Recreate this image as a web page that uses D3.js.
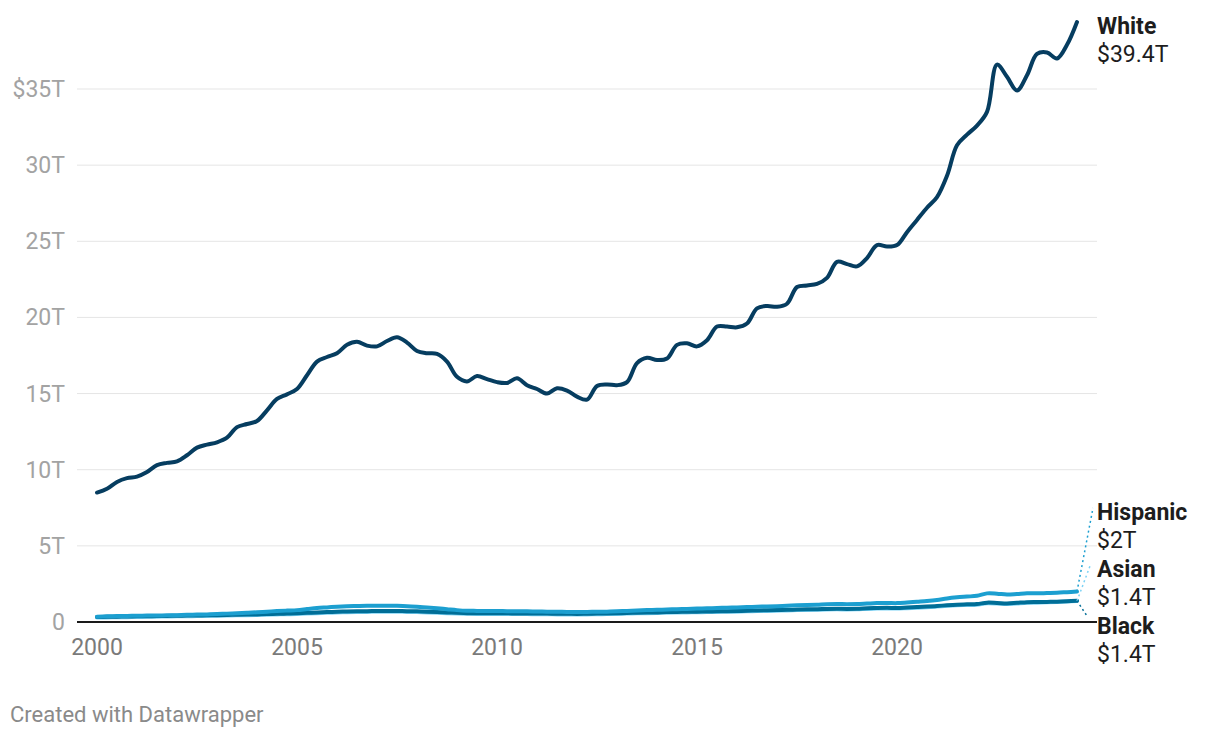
<!DOCTYPE html>
<html><head><meta charset="utf-8">
<script src="https://cdn.jsdelivr.net/npm/d3@7"></script>
<style>
body{margin:0;background:#fff;font-family:Roboto,"Noto Sans",sans-serif;}
</style></head><body>
<svg id="c" width="1220" height="738"></svg>
<script>
const startYear = 2000;
const quarters = d3.range(99).map(i => startYear + i * 0.25);
const white = [8.5,8.75,9.2,9.45, 9.55,9.85,10.3,10.45, 10.55,10.95,11.45,11.65, 11.8,12.1,12.8,13.0,
 13.2,13.9,14.65,14.95, 15.3,16.2,17.1,17.4, 17.65,18.2,18.4,18.15, 18.1,18.45,18.7,18.35,
 17.8,17.65,17.6,17.1, 16.1,15.8,16.15,15.95, 15.75,15.7,16.0,15.55, 15.3,15.0,15.35,15.2,
 14.8,14.6,15.5,15.6, 15.55,15.75,17.0,17.35, 17.2,17.3,18.2,18.3, 18.1,18.5,19.4,19.4,
 19.35,19.6,20.6,20.75, 20.7,20.9,22.0,22.1, 22.2,22.6,23.65,23.5, 23.35,23.9,24.75,24.65,
 24.75,25.6,26.4,27.2, 27.9,29.3,31.3,32.0, 32.6,33.5,36.6,35.8, 34.9,35.9,37.3,37.4,
 37.0,37.9,39.4];
const hispanic = [0.35,0.37,0.39,0.40, 0.41,0.42,0.43,0.44, 0.45,0.47,0.49,0.50, 0.52,0.55,0.58,0.61,
 0.64,0.68,0.72,0.75, 0.78,0.85,0.92,0.96, 1.00,1.03,1.05,1.06, 1.06,1.07,1.06,1.04,
 1.00,0.95,0.90,0.84, 0.78,0.74,0.73,0.72, 0.72,0.71,0.70,0.70, 0.69,0.68,0.67,0.66,
 0.65,0.66,0.67,0.68, 0.70,0.73,0.76,0.78, 0.80,0.82,0.84,0.86, 0.88,0.90,0.92,0.94,
 0.96,0.98,1.00,1.02, 1.04,1.07,1.10,1.12, 1.14,1.17,1.18,1.17, 1.18,1.21,1.24,1.25,
 1.24,1.28,1.33,1.38, 1.45,1.55,1.62,1.67, 1.72,1.88,1.86,1.80, 1.84,1.89,1.88,1.90,
 1.92,1.96,2.00];
const black = [0.33,0.34,0.35,0.36, 0.37,0.38,0.39,0.40, 0.41,0.42,0.43,0.44, 0.45,0.46,0.48,0.49,
 0.50,0.52,0.54,0.55, 0.57,0.60,0.63,0.65, 0.67,0.69,0.70,0.71, 0.72,0.73,0.72,0.71,
 0.70,0.68,0.66,0.63, 0.60,0.58,0.57,0.57, 0.57,0.57,0.56,0.56, 0.55,0.55,0.54,0.54,
 0.53,0.54,0.55,0.56, 0.57,0.59,0.61,0.62, 0.63,0.65,0.66,0.67, 0.68,0.69,0.70,0.71,
 0.72,0.74,0.76,0.77, 0.78,0.80,0.82,0.83, 0.84,0.86,0.87,0.86, 0.87,0.90,0.92,0.93,
 0.92,0.95,0.98,1.01, 1.05,1.10,1.14,1.16, 1.18,1.27,1.25,1.22, 1.26,1.30,1.31,1.32,
 1.33,1.36,1.40];
const asian = [0.29,0.30,0.31,0.32, 0.33,0.34,0.35,0.36, 0.37,0.38,0.39,0.40, 0.41,0.42,0.44,0.45,
 0.46,0.48,0.50,0.51, 0.53,0.56,0.58,0.60, 0.62,0.64,0.65,0.66, 0.67,0.68,0.67,0.66,
 0.65,0.63,0.61,0.58, 0.56,0.54,0.53,0.53, 0.53,0.53,0.52,0.52, 0.51,0.51,0.50,0.50,
 0.49,0.50,0.51,0.52, 0.53,0.55,0.57,0.58, 0.59,0.61,0.62,0.63, 0.64,0.65,0.66,0.67,
 0.68,0.70,0.72,0.73, 0.74,0.76,0.78,0.79, 0.80,0.82,0.83,0.82, 0.83,0.86,0.88,0.89,
 0.88,0.91,0.94,0.97, 1.01,1.06,1.10,1.12, 1.14,1.23,1.21,1.18, 1.22,1.26,1.27,1.29,
 1.31,1.34,1.38];
const yTicks = [0,5,10,15,20,25,30,35];
const yTickLabels = ["0","5T","10T","15T","20T","25T","30T","$35T"];
const xTicks = [2000,2005,2010,2015,2020];
const seriesNames = ["Asian","Black","Hispanic","White"];
const seriesLabels = {White:"$39.4T", Hispanic:"$2T", Asian:"$1.4T", Black:"$1.4T"};
const seriesColors = {White:"#063d60", Hispanic:"#1c9fd0", Asian:"#7dd3f5", Black:"#006e97"};
const seriesData = {White:white, Hispanic:hispanic, Asian:asian, Black:black};

const svg = d3.select("#c");
const x = d3.scaleLinear().domain([2000, 2025.5]).range([97, 1117]);
const y = d3.scaleLinear().domain([0, 35]).range([622, 89]);
const left = 77, right = 1097;
const axisFont = 23, labelFont = 23;

const g = svg.append("g");
yTicks.filter(t => t > 0).forEach(t => {
  g.append("line").attr("x1", left).attr("x2", right).attr("y1", y(t)).attr("y2", y(t))
    .attr("stroke", "#e5e5e5").attr("stroke-width", 1);
});
yTicks.forEach((t, i) => {
  svg.append("text").attr("x", 65).attr("y", y(t) + 8).attr("text-anchor", "end")
    .attr("font-size", axisFont).attr("fill", "#a3a3a3").text(yTickLabels[i]);
});
xTicks.forEach(t => {
  svg.append("text").attr("x", x(t)).attr("y", 655).attr("text-anchor", "middle")
    .attr("font-size", axisFont).attr("fill", "#7a7a7a").text(t);
});

const line = d3.line().x((d, i) => x(quarters[i])).y(d => y(d)).curve(d3.curveCatmullRom.alpha(0.5));

seriesNames.forEach(name => {
  svg.append("path").datum(seriesData[name]).attr("d", line)
    .attr("fill", "none").attr("stroke", seriesColors[name])
    .attr("stroke-width", 4)
    .attr("stroke-linejoin", "round").attr("stroke-linecap", "round");
});

svg.append("line").attr("x1", left).attr("x2", right).attr("y1", y(0)).attr("y2", y(0))
  .attr("stroke", "#1a1a1a").attr("stroke-width", 2);

const lastX = x(quarters[quarters.length - 1]);
const labelPos = {White: 34, Hispanic: 520, Asian: 577, Black: 634};
const connectorEnd = {Hispanic: [1093, 508], Asian: [1090, 566], Black: [1087, 616]};
["Hispanic","Asian","Black"].forEach(name => {
  const d = seriesData[name];
  svg.append("line").attr("x1", lastX).attr("y1", y(d[d.length - 1]))
    .attr("x2", connectorEnd[name][0]).attr("y2", connectorEnd[name][1])
    .attr("stroke", seriesColors[name]).attr("stroke-width", 1.5).attr("stroke-dasharray", "2,3");
});
Object.keys(labelPos).forEach(name => {
  svg.append("text").attr("x", 1097).attr("y", labelPos[name]).attr("font-size", labelFont)
    .attr("font-weight", "bold").attr("fill", "#1d1d1d").text(name);
  svg.append("text").attr("x", 1097).attr("y", labelPos[name] + 28).attr("font-size", labelFont)
    .attr("fill", "#1d1d1d").text(seriesLabels[name]);
});

svg.append("text").attr("x", 10).attr("y", 722).attr("font-size", 22).attr("fill", "#8a8a8a")
  .text("Created with Datawrapper");
</script>
</body></html>
